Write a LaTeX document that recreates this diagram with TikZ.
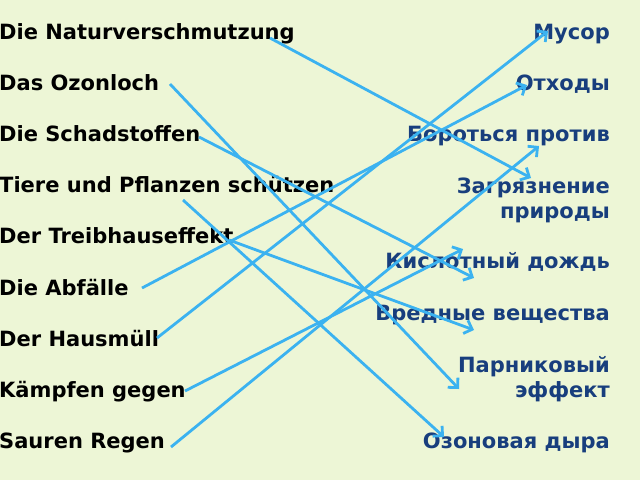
\documentclass[tikz,border=0pt]{standalone}
\usepackage{fontspec}
\setmainfont{DejaVu Sans}
\usetikzlibrary{arrows.meta}
\definecolor{pagebg}{RGB}{237,246,214}
\definecolor{linkblue}{RGB}{59,178,240}
\definecolor{rusblue}{RGB}{24,62,125}

\begin{document}
\begin{tikzpicture}[x=1pt, y=-1pt,
    de/.style={anchor=base west, inner sep=0pt, font=\bfseries\fontsize{21}{25}\selectfont},
    ru/.style={anchor=base east, inner sep=0pt, align=right, text=rusblue, font=\bfseries\fontsize{21}{25}\selectfont},
    link/.style={draw=linkblue, line width=2.8pt, -{Straight Barb[length=7pt,width=14pt]}}]
    \fill[pagebg] (0,0) rectangle (640,480);
    \useasboundingbox (0,0) rectangle (640,480);

    \node[de] (natur) at (-1,39.5) {Die Naturverschmutzung};
    \node[de] (ozon) at (-1,90.6) {Das Ozonloch};
    \node[de] (schad) at (-1,141.7) {Die Schadstoffen};
    \node[de] (tiere) at (-1,192.8) {Tiere und Pflanzen schützen};
    \node[de] (treib) at (-1,243.9) {Der Treibhauseffekt};
    \node[de] (abfall) at (-1,295) {Die Abfälle};
    \node[de] (haus) at (-1,346.1) {Der Hausmüll};
    \node[de] (kampf) at (-1,397.2) {Kämpfen gegen};
    \node[de] (sauer) at (-1,448.3) {Sauren Regen};

    \node[ru] (musor) at (610,39) {Мусор};
    \node[ru] (othody) at (610,90.7) {Отходы};
    \node[ru] (borot) at (610,141.7) {Бороться против};
    \node[ru] (zagr) at (610,218.8) {Загрязнение\\природы};
    \node[ru] (dozhd) at (610,268.3) {Кислотный дождь};
    \node[ru] (vred) at (610,320.5) {Вредные вещества};
    \node[ru] (parnik) at (610,397.2) {Парниковый\\эффект};
    \node[ru] (dyra) at (610,448.3) {Озоновая дыра};

    \coordinate (natur-o) at (270,38);
    \coordinate (ozon-o) at (170,84);
    \coordinate (schad-o) at (199,137);
    \coordinate (tiere-o) at (183,200);
    \coordinate (treib-o) at (229,240);
    \coordinate (abfall-o) at (142,288);
    \coordinate (haus-o) at (157,338);
    \coordinate (kampf-o) at (185,391);
    \coordinate (sauer-o) at (171,447);

    \coordinate (musor-i) at (548,31);
    \coordinate (othody-i) at (527,85);
    \coordinate (borot-i) at (539,146);
    \coordinate (zagr-i) at (531,178);
    \coordinate (dozhd-a) at (463,249);
    \coordinate (dozhd-b) at (474,278);
    \coordinate (vred-i) at (474,330);
    \coordinate (parnik-i) at (459,389);
    \coordinate (dyra-i) at (444,437);

    \draw[link] (natur-o) -- (zagr-i);
    \draw[link] (ozon-o) -- (parnik-i);
    \draw[link] (schad-o) -- (dozhd-b);
    \draw[link] (tiere-o) -- (dyra-i);
    \draw[link] (treib-o) -- (vred-i);
    \draw[link] (abfall-o) -- (othody-i);
    \draw[link] (haus-o) -- (musor-i);
    \draw[link] (kampf-o) -- (dozhd-a);
    \draw[link] (sauer-o) -- (borot-i);
\end{tikzpicture}
\end{document}
